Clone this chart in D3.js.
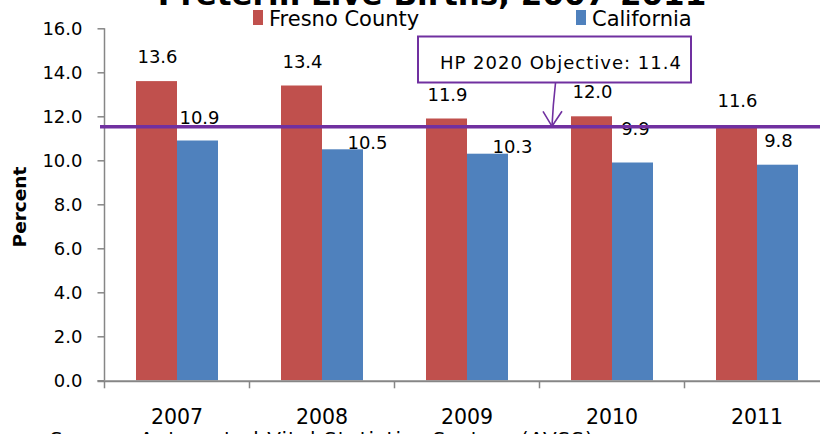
<!DOCTYPE html>
<html>
<head>
<meta charset="utf-8">
<script src="https://cdn.jsdelivr.net/npm/d3@7"></script>
<style>
  html, body { margin: 0; padding: 0; background: #fff; overflow: hidden; }
  text { font-family: 'DejaVu Sans', sans-serif; fill: #000; }
</style>
</head>
<body>
<svg id="chart" width="820" height="434"></svg>
<script>
// ---- data ----
const categories = ["2007", "2008", "2009", "2010", "2011"];
const seriesNames = ["Fresno County", "California"];
const fresnoValues = [13.6, 13.4, 11.9, 12.0, 11.6];
const californiaValues = [10.9, 10.5, 10.3, 9.9, 9.8];
const yTicks = [0, 2, 4, 6, 8, 10, 12, 14, 16];
const hpObjectiveLabel = "HP 2020 Objective: 11.4";
const hpLineValue = 11.5;   // where the drawn objective line sits
const titleText = "Preterm Live Births, 2007-2011";
const sourceText = "Source: Automated Vital Statistics System (AVSS)";
const yAxisTitle = "Percent";

// label nudges for California labels (manually moved in original) [dx, dy]
const caLabelNudge = [[2, -17], [25, 0], [25, -1], [3, -28], [1, -18]];

const colors = ["#C0504D", "#4F81BD"];
const purple = "#7030A0";
const axisGray = "#868686";

const svg = d3.select("#chart");

const x = d3.scaleBand().domain(categories).range([104.5, 829.5]).paddingInner(0).paddingOuter(0);
const xs = d3.scaleBand().domain(seriesNames).range([31.5, x.bandwidth() - 31.5]);
const y = d3.scaleLinear().domain([0, 16]).range([380.3, 28.3]);

// ---- bars ----
const rows = categories.map((c, i) => ({ cat: c, vals: [fresnoValues[i], californiaValues[i]] }));
const groups = svg.append("g").selectAll("g").data(rows).join("g")
  .attr("transform", d => `translate(${x(d.cat)},0)`);
groups.selectAll("rect").data(d => d.vals.map((v, j) => ({ v, s: seriesNames[j], j })))
  .join("rect")
  .attr("x", d => xs(d.s))
  .attr("width", xs.bandwidth())
  .attr("y", d => y(d.v))
  .attr("height", d => y(0) - y(d.v))
  .attr("fill", d => colors[d.j]);

// ---- axes ----
const yAxis = d3.axisLeft(y).tickValues(yTicks).tickSize(7).tickFormat(d3.format(".1f"));
const gy = svg.append("g").attr("transform", "translate(104.5,0)").call(yAxis);
gy.select(".domain").attr("stroke", axisGray).attr("stroke-width", 1.5).attr("d", `M0,${y(16)}V${y(0)}`);
gy.selectAll(".tick line").attr("stroke", axisGray).attr("stroke-width", 1.5);
gy.selectAll(".tick text").attr("x", -22).attr("dy", "0.36em")
  .style("font-size", "18px").style("font-family", "'DejaVu Sans', sans-serif").attr("fill", "#000");

// x axis line
svg.append("line").attr("x1", 97.5).attr("x2", 820).attr("y1", y(0) + 1).attr("y2", y(0) + 1)
  .attr("stroke", axisGray).attr("stroke-width", 2);
// category boundary ticks
svg.append("g").selectAll("line").data(categories).join("line")
  .attr("x1", d => x(d)).attr("x2", d => x(d))
  .attr("y1", y(0) + 1).attr("y2", y(0) + 8)
  .attr("stroke", axisGray).attr("stroke-width", 1.5);
// category labels
svg.append("g").selectAll("text").data(categories).join("text")
  .attr("x", d => x(d) + x.bandwidth() / 2)
  .attr("y", 424)
  .attr("text-anchor", "middle")
  .style("font-size", "20.5px")
  .text(d => d);

// ---- data labels ----
const lbl = svg.append("g").style("font-size", "18px");
lbl.selectAll("text.f").data(rows).join("text").attr("class", "f")
  .attr("x", d => x(d.cat) + xs(seriesNames[0]) + xs.bandwidth() / 2 + 1)
  .attr("y", d => y(d.vals[0]) - 18)
  .attr("text-anchor", "middle")
  .text(d => d.vals[0].toFixed(1));
lbl.selectAll("text.c").data(rows).join("text").attr("class", "c")
  .attr("x", (d, i) => x(d.cat) + xs(seriesNames[1]) + xs.bandwidth() / 2 + caLabelNudge[i][0])
  .attr("y", (d, i) => y(d.vals[1]) + caLabelNudge[i][1])
  .attr("text-anchor", "middle")
  .text(d => d.vals[1].toFixed(1));

// ---- objective line ----
svg.append("line").attr("x1", 100).attr("x2", 820)
  .attr("y1", y(hpLineValue) - 0.5).attr("y2", y(hpLineValue) - 0.5)
  .attr("stroke", purple).attr("stroke-width", 3.5);

// ---- callout ----
const tipX = 552, tipY = y(hpLineValue) - 1;
svg.append("path")
  .attr("d", `M555.5,83 Q553,105 ${tipX},${tipY}`)
  .attr("fill", "none").attr("stroke", purple).attr("stroke-width", 1.6);
svg.append("path")
  .attr("d", `M${tipX - 9},${tipY - 15} L${tipX},${tipY} L${tipX + 10},${tipY - 15}`)
  .attr("fill", "none").attr("stroke", purple).attr("stroke-width", 1.6);
svg.append("rect").attr("x", 418).attr("y", 36.5).attr("width", 273).attr("height", 46)
  .attr("fill", "#fff").attr("stroke", purple).attr("stroke-width", 2);
svg.append("text").attr("x", 440).attr("y", 68.5)
  .style("font-size", "18px").style("letter-spacing", "1px")
  .text(hpObjectiveLabel);

// ---- title (clipped at top) ----
svg.append("text").attr("x", 432).attr("y", 5).attr("text-anchor", "middle")
  .style("font-size", "31px").style("font-weight", "bold").text(titleText);

// ---- legend ----
const legendX = [253, 576];
const lg = svg.append("g").selectAll("g").data(seriesNames).join("g")
  .attr("transform", (d, i) => `translate(${legendX[i]},0)`);
lg.append("rect").attr("x", 0).attr("y", 10).attr("width", 10).attr("height", 15)
  .attr("fill", (d, i) => colors[i]);
lg.append("text").attr("x", 16).attr("y", 26).style("font-size", "21px").text(d => d);

// ---- y axis title ----
svg.append("text").attr("transform", "translate(26,207) rotate(-90)")
  .attr("text-anchor", "middle").style("font-size", "18.5px").style("font-weight", "bold")
  .text(yAxisTitle);

// ---- source (clipped at bottom) ----
svg.append("text").attr("x", 50).attr("y", 446).style("font-size", "20px").style("letter-spacing", "1px").text(sourceText);
</script>
</body>
</html>
